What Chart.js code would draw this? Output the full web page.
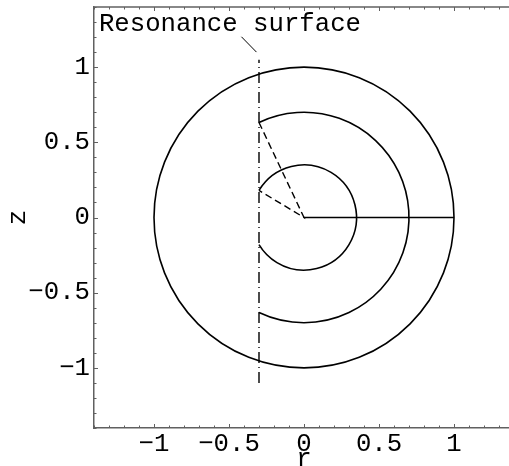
<!DOCTYPE html>
<html>
<head>
<meta charset="utf-8">
<script src="https://cdn.jsdelivr.net/npm/chart.js@4.4.0/dist/chart.umd.min.js"></script>
<style>
  html, body { margin: 0; padding: 0; background: #fff; overflow: hidden; width: 509px; height: 466px; }
  canvas { display: block; }
</style>
</head>
<body>
<canvas id="plot" width="520" height="466"></canvas>
<script>
  // axis range (both axes share the same range)
  const axisMin = -1.4;
  const axisMax = 1.4;
  const tickStep = 0.1;

  // circles centred on the origin; cut ones stop at the resonance surface
  const circleRadii = [1.0, 0.7, 0.35];
  const circleCut = [false, true, true];

  // resonance surface (vertical dash-dot line)
  const resonanceR = [-0.3, -0.3];
  const resonanceZ = [-1.1, 1.05];

  // dashed rays: from the upper cut of the 0.7 circle, via origin, to the cut of the 0.35 circle
  const rayR = [-0.3, 0, -0.3];
  const rayZ = [0.632, 0, 0.18];

  // solid radius line
  const radiusR = [0, 1];
  const radiusZ = [0, 0];

  // annotation
  const labelText = 'Resonance surface';
  const labelAt = [-1.367, 1.243];
  const pointerR = [-0.417, -0.317];
  const pointerZ = [1.202, 1.10];

  const fontFamily = "'Liberation Mono', 'Courier New', monospace";
  const fontSize = 25.7;
  const axisColor = '#606060';

  function toPoints(xs, ys) {
    return xs.map((v, i) => ({ x: v, y: ys[i] }));
  }

  function isMajor(v) {
    return Math.round(v * 10) % 5 === 0;
  }

  function tickLabel(v) {
    const k = Math.round(v * 10);
    if (k % 5 !== 0) return '';
    const val = k / 10;
    return val < 0 ? '\u2212' + String(-val) : String(val);
  }

  const frameTicks = {
    id: 'frameTicks',
    afterDatasetsDraw(chart) {
      const { ctx, scales: { x, y } } = chart;
      const cx = x.getPixelForValue(0);
      const cy = y.getPixelForValue(0);

      // circles / arcs
      ctx.save();
      ctx.setLineDash([]);
      ctx.strokeStyle = '#000';
      ctx.lineWidth = 1.6;
      circleRadii.forEach((R, i) => {
        const rx = x.getPixelForValue(R) - cx;
        const ry = cy - y.getPixelForValue(R);
        let start = 0, end = Math.PI * 2;
        if (circleCut[i]) {
          const th = Math.acos(resonanceR[0] / R);
          start = -th;
          end = th;
        }
        ctx.beginPath();
        ctx.ellipse(cx, cy, rx, ry, 0, start, end, false);
        ctx.stroke();
      });

      // label
      ctx.fillStyle = '#000';
      ctx.font = fontSize + 'px ' + fontFamily;
      ctx.textAlign = 'left';
      ctx.textBaseline = 'alphabetic';
      ctx.fillText(labelText, x.getPixelForValue(labelAt[0]), y.getPixelForValue(labelAt[1]));
      ctx.restore();
    },
    afterDraw(chart) {
      const { ctx, chartArea: a, scales: { x, y } } = chart;
      ctx.save();
      ctx.setLineDash([]);
      ctx.strokeStyle = axisColor;
      ctx.lineWidth = 1.5;
      ctx.beginPath();
      ctx.moveTo(a.left, a.top);
      ctx.lineTo(a.right, a.top);
      ctx.stroke();

      // inward tick marks on left, bottom and top
      ctx.lineWidth = 1;
      ctx.beginPath();
      x.ticks.forEach(t => {
        const px = Math.round(x.getPixelForValue(t.value)) + 0.5;
        const len = isMajor(t.value) ? 4 : 2.5;
        ctx.moveTo(px, a.bottom);
        ctx.lineTo(px, a.bottom - len);
        ctx.moveTo(px, a.top);
        ctx.lineTo(px, a.top + len);
      });
      y.ticks.forEach(t => {
        const py = Math.round(y.getPixelForValue(t.value)) + 0.5;
        const len = isMajor(t.value) ? 4 : 2.5;
        ctx.moveTo(a.left, py);
        ctx.lineTo(a.left + len, py);
      });
      ctx.stroke();
      ctx.restore();
    }
  };

  const baseLine = {
    showLine: true,
    pointRadius: 0,
    borderColor: '#000',
    borderWidth: 1.6,
    fill: false
  };

  const font = { family: fontFamily, size: fontSize };

  new Chart(document.getElementById('plot'), {
    type: 'scatter',
    data: {
      datasets: [
        Object.assign({}, baseLine, { data: toPoints(resonanceR, resonanceZ), borderWidth: 1.4, borderDash: [11, 4, 1, 4] }),
        Object.assign({}, baseLine, { data: toPoints(rayR, rayZ), borderWidth: 1.4, borderDash: [7, 4] }),
        Object.assign({}, baseLine, { data: toPoints(radiusR, radiusZ) }),
        Object.assign({}, baseLine, { data: toPoints(pointerR, pointerZ), borderWidth: 1 })
      ]
    },
    options: {
      responsive: false,
      animation: false,
      layout: { padding: { top: 7, right: 6, left: 0, bottom: 0 } },
      plugins: { legend: { display: false }, tooltip: { enabled: false } },
      scales: {
        x: {
          type: 'linear',
          min: axisMin,
          max: axisMax,
          afterFit: s => { s.height = 38; s.paddingLeft = 0; s.paddingRight = 0; },
          ticks: { stepSize: tickStep, autoSkip: false, maxRotation: 0, padding: 1, color: '#000', font, callback: tickLabel },
          grid: { display: true, drawOnChartArea: false, drawTicks: false },
          border: { color: axisColor, width: 1.5 },
          title: { display: true, text: 'r', color: '#000', font, padding: { top: 0, bottom: -9 } }
        },
        y: {
          type: 'linear',
          min: axisMin,
          max: axisMax,
          afterFit: s => { s.width = 94; s.paddingTop = 0; s.paddingBottom = 0; },
          ticks: { stepSize: tickStep, autoSkip: false, padding: 4, color: '#000', font, callback: tickLabel },
          grid: { display: true, drawOnChartArea: false, drawTicks: false },
          border: { color: axisColor, width: 1.5 },
          title: { display: true, text: 'z', color: '#000', font, padding: { top: 3, bottom: 0 } }
        }
      }
    },
    plugins: [frameTicks]
  });
</script>
</body>
</html>
